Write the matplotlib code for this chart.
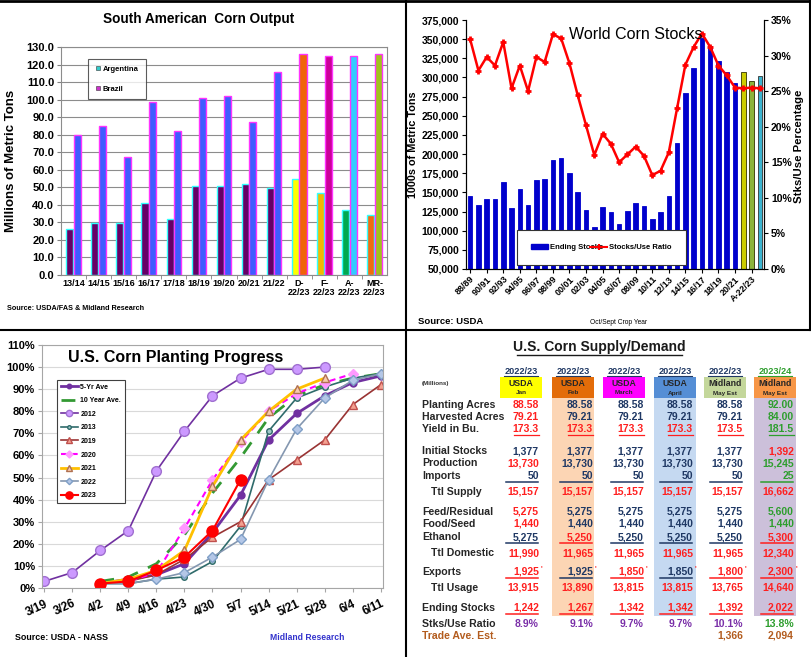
import numpy as np
import matplotlib
matplotlib.use('Agg')
import matplotlib.pyplot as plt
from matplotlib.lines import Line2D
from matplotlib.patches import Patch, Rectangle

plt.rcParams['font.family'] = ['Liberation Sans', 'DejaVu Sans']

W, H = 812, 657

# ---- South American corn output (million tons) ----
sa_years = ['13/14', '14/15', '15/16', '16/17', '17/18', '18/19', '19/20', '20/21',
            '21/22', 'D-\n22/23', 'F-\n22/23', 'A-\n22/23', 'MR-\n22/23']
argentina = [26, 29.5, 29.5, 41, 32, 51, 51, 52, 49.5, 55, 47, 37, 34]
brazil = [80, 85, 67.5, 98.5, 82, 101, 102, 87, 116, 126, 125, 125, 126]

# ---- World corn stocks (1000 MT) and stocks/use (%) ----
world_years = ['88/89', '89/90', '90/91', '91/92', '92/93', '93/94', '94/95', '95/96',
               '96/97', '97/98', '98/99', '99/00', '00/01', '01/02', '02/03', '03/04',
               '04/05', '05/06', '06/07', '07/08', '08/09', '09/10', '10/11', '11/12',
               '12/13', '13/14', '14/15', '15/16', '16/17', '17/18', '18/19', '19/20',
               '20/21', '21/22', 'A-22/23', 'MY-22/23']
world_stocks = [145000, 133000, 141000, 141000, 163000, 130000, 154000, 133000,
                166000, 167000, 192000, 195000, 175000, 151000, 127000, 105000,
                131000, 124000, 109000, 126000, 136000, 132000, 115000, 124000,
                145000, 215000, 280000, 312000, 352000, 341000, 322000, 307000,
                293000, 307000, 296000, 302000]
world_ratio = [32.3, 27.9, 29.8, 28.6, 31.9, 25.4, 28.6, 25.0, 29.8, 29.1, 33.0, 32.4,
               28.9, 24.4, 20.2, 16.0, 19.0, 17.6, 15.0, 16.1, 17.2, 15.9, 13.2, 13.8,
               16.4, 22.6, 28.7, 31.2, 33.1, 31.2, 28.6, 27.2, 25.5, 25.4, 25.5, 25.4]

# ---- U.S. corn planting progress (%) ----
nan = np.nan
weeks = ['3/19', '3/26', '4/2', '4/9', '4/16', '4/23', '4/30', '5/7', '5/14',
         '5/21', '5/28', '6/4', '6/11']
avg_5yr = [nan, nan, 2, 4, 6, 11, 25, 42, 67, 79, 87, 93, 96]
avg_10yr = [nan, nan, 3, 5, 11, 24, 43, 59, 77, 87, 92, 95, 97]
p2012 = [3, 7, 17, 26, 53, 71, 87, 95, 99, 99, 100, nan, nan]
p2013 = [nan, nan, 2, 2, 4, 5, 12, 28, 71, 86, 91, 95, 97]
p2019 = [nan, nan, 2, 3, 6, 13, 23, 30, 49, 58, 67, 83, 92]
p2020 = [nan, nan, 2, 3, 7, 27, 49, 66, 80, 88, 93, 97, nan]
p2021 = [nan, nan, 2, 4, 8, 17, 46, 67, 80, 90, 95, nan, nan]
p2022 = [nan, nan, 2, 2, 4, 7, 14, 22, 49, 72, 86, 94, 97]
p2023 = [nan, nan, 2, 3, 8, 14, 26, 49, nan, nan, nan, nan, nan]

# ---- U.S. corn supply/demand table ----
col_years = ['2022/23', '2022/23', '2022/23', '2022/23', '2022/23', '2023/24']
col_source = ['USDA', 'USDA', 'USDA', 'USDA', 'Midland', 'Midland']
col_month = ['Jan', 'Feb', 'March', 'April', 'May Est', 'May Est']
planting = [88.58, 88.58, 88.58, 88.58, 88.58, 92.00]
harvested = [79.21, 79.21, 79.21, 79.21, 79.21, 84.00]
yield_bu = [173.3, 173.3, 173.3, 173.3, 173.5, 181.5]
init_stocks = [1377, 1377, 1377, 1377, 1377, 1392]
production = [13730, 13730, 13730, 13730, 13730, 15245]
imports = [50, 50, 50, 50, 50, 25]
ttl_supply = [15157, 15157, 15157, 15157, 15157, 16662]
feed = [5275, 5275, 5275, 5275, 5275, 5600]
food = [1440, 1440, 1440, 1440, 1440, 1440]
ethanol = [5275, 5250, 5250, 5250, 5250, 5300]
ttl_domestic = [11990, 11965, 11965, 11965, 11965, 12340]
exports = [1925, 1925, 1850, 1850, 1800, 2300]
ttl_usage = [13915, 13890, 13815, 13815, 13765, 14640]
end_stocks = [1242, 1267, 1342, 1342, 1392, 2022]
stks_use = [8.9, 9.1, 9.7, 9.7, 10.1, 13.8]
trade_est = [None, None, None, None, 1366, 2094]


def box(x0, y0, x1, y1):
    return [x0 / W, 1 - y1 / H, (x1 - x0) / W, (y1 - y0) / H]


fig = plt.figure(figsize=(W / 100, H / 100), dpi=100)

# ================= top left: South American corn =================
ax1 = fig.add_axes(box(61, 47, 387, 275))
x = np.arange(len(sa_years))
arg_col = ['#660066'] * 9 + ['#ffff00', '#f5b800', '#00a850', '#f26b0f']
bra_col = ['#3f5cff'] * 9 + ['#f0640a', '#cc0099', '#33ccff', '#a2c11c']
ax1.bar(x - 0.15, argentina, 0.28, color=arg_col, edgecolor='#33ffff', linewidth=1, zorder=3)
ax1.bar(x + 0.15, brazil, 0.28, color=bra_col, edgecolor='#ff33ff', linewidth=1, zorder=3)
ax1.set_xlim(-0.5, len(sa_years) - 0.5)
ax1.set_ylim(0, 130)
ax1.set_yticks(np.arange(0, 131, 10))
ax1.set_yticklabels([f'{v:.1f}' for v in np.arange(0, 131, 10)], fontsize=8, fontweight='bold')
ax1.set_xticks(x)
ax1.set_xticklabels(sa_years, fontsize=6.5, fontweight='bold', linespacing=1.0)
ax1.set_xticks(x[:-1] + 0.5, minor=True)
ax1.tick_params(axis='x', which='major', length=0, pad=3)
ax1.tick_params(axis='x', which='minor', length=3, color='#808080')
ax1.tick_params(axis='y', length=3, color='#808080', pad=2)
ax1.grid(axis='y', color='#8c8c8c', linewidth=0.8, zorder=0)
for s in ax1.spines.values():
    s.set_color('#8c8c8c')
h1 = [Line2D([], [], marker='s', ls='none', ms=3.5, mfc='#33cccc', mec='#333333', mew=0.4),
      Line2D([], [], marker='s', ls='none', ms=3.5, mfc='#cc33cc', mec='#333333', mew=0.4)]
lg = ax1.legend(h1, ['Argentina', 'Brazil'], loc='upper left', bbox_to_anchor=(0.07, 0.965),
                prop={'size': 5.5, 'weight': 'bold'}, labelspacing=1.6, handletextpad=0.1,
                handlelength=1.0, borderpad=0.9, fancybox=False, edgecolor='#333333')
lg.get_frame().set_linewidth(0.8)

# ================= top right: world corn stocks =================
ax2 = fig.add_axes(box(466, 20, 764, 269))
xi = np.arange(len(world_years))
bcol = ['#0000cc'] * 33 + ['#cccc00', '#8cb43c', '#3cb4d0']
bedge = ['#0000cc'] * 33 + ['#333300', '#333300', '#333333']
ax2.bar(xi, world_stocks, 0.55, color=bcol, edgecolor=bedge, linewidth=0.6, zorder=2)
ax2.set_xlim(-0.5, len(world_years) - 0.5)
ax2.set_ylim(50000, 375000)
yt = np.arange(50000, 375001, 25000)
ax2.set_yticks(yt)
ax2.set_yticklabels([f'{v:,}' for v in yt], fontsize=7.5, fontweight='bold')
ax2.set_xticks(xi[::2])
ax2.set_xticklabels(world_years[::2], rotation=45, ha='right', rotation_mode='anchor',
                    fontsize=6.5, fontweight='bold')
ax2.tick_params(axis='x', length=3, pad=1)
ax2.tick_params(axis='y', length=3, pad=2)
ax2.spines['top'].set_visible(False)
ax2r = ax2.twinx()
ax2r.plot(xi, world_ratio, color='#ff0000', lw=1.8, marker='+', ms=5, mew=2, zorder=4)
ax2r.set_ylim(0, 35)
ax2r.set_yticks(np.arange(0, 36, 5))
ax2r.set_yticklabels([f'{v}%' for v in range(0, 36, 5)], fontsize=7.5, fontweight='bold')
ax2r.tick_params(axis='y', length=3, pad=2)
ax2r.spines['top'].set_visible(False)
ax2r.text(0.57, 0.94, 'World Corn Stocks', transform=ax2r.transAxes, ha='center',
          va='center', fontsize=11.5, zorder=6)
h2 = [Patch(color='#0000cc'),
      Line2D([], [], color='#ff0000', lw=1.5, marker='+', ms=4, mew=1.5)]
lg2 = ax2r.legend(h2, ['Ending Stocks', 'Stocks/Use Ratio'], loc='lower left',
                  bbox_to_anchor=(0.16, 0.0, 0.59, 0.14), mode='expand', ncol=2,
                  prop={'size': 5.5, 'weight': 'bold'}, borderpad=1.8, handlelength=2.2,
                  handletextpad=0.3, fancybox=False, edgecolor='#333333', framealpha=1)
lg2.get_frame().set_linewidth(0.8)
lg2.set_zorder(10)

# ================= bottom left: planting progress =================
ax3 = fig.add_axes(box(42, 345, 383, 588))
wx = np.arange(len(weeks))
series = [
    (avg_5yr, '5-Yr Ave', dict(color='#7030a0', lw=2, marker='o', ms=5)),
    (avg_10yr, '10 Year Ave.', dict(color='#339933', lw=2, ls=(0, (5, 4)))),
    (p2012, '2012', dict(color='#7030a0', lw=1.2, marker='o', ms=7, mfc='#cc99ff', mec='#a070d0')),
    (p2013, '2013', dict(color='#2f6b6b', lw=1.2, marker='o', ms=4, mfc='#a0c8c8', mec='#2f6b6b')),
    (p2019, '2019', dict(color='#993333', lw=1.2, marker='^', ms=6, mfc='#f4a090', mec='#c0504d')),
    (p2020, '2020', dict(color='#ff00ff', lw=1.5, ls=(0, (3, 2)), marker='D', ms=5.5, mfc='#ff99ff', mec='#ff99ff')),
    (p2021, '2021', dict(color='#ffc000', lw=2, marker='^', ms=6, mfc='#f8cbad', mec='#b07050')),
    (p2022, '2022', dict(color='#8497b0', lw=1.2, marker='D', ms=5, mfc='#b4c7e7', mec='#7f9fc7')),
    (p2023, '2023', dict(color='#ff0000', lw=1.5, marker='o', ms=8)),
]
for vals, name, kw in series:
    ax3.plot(wx, np.array(vals, dtype=float), label=name, **kw)
ax3.set_xlim(-0.08, len(weeks) - 1 + 0.08)
ax3.set_ylim(0, 110)
ax3.set_yticks(np.arange(0, 111, 10))
ax3.set_yticklabels([f'{v}%' for v in range(0, 111, 10)], fontsize=8, fontweight='bold')
ax3.set_xticks(wx)
ax3.set_xticklabels(weeks, rotation=25, ha='right', rotation_mode='anchor',
                    fontsize=8.5, fontweight='bold')
ax3.tick_params(axis='x', length=3, pad=4, color='#a6a6a6')
ax3.tick_params(axis='y', length=3, pad=2, color='#a6a6a6')
ax3.grid(axis='y', color='#d9d9d9', lw=0.8)
ax3.set_axisbelow(True)
for s in ax3.spines.values():
    s.set_color('#a6a6a6')
ax3.text(0.076, 0.95, 'U.S. Corn Planting Progress', transform=ax3.transAxes,
         fontsize=11.5, fontweight='bold', va='center', ha='left')
lg3 = ax3.legend(loc='upper left', bbox_to_anchor=(0.035, 0.87), prop={'size': 5, 'weight': 'bold'},
                 labelspacing=0.95, handlelength=2.4, handletextpad=0.4, borderpad=0.5,
                 markerscale=0.65, fancybox=False, edgecolor='#404040', framealpha=1)
lg3.get_frame().set_linewidth(0.8)

# ================= overlay: texts, borders, table =================
ov = fig.add_axes([0, 0, 1, 1])
ov.set_xlim(0, W)
ov.set_ylim(H, 0)
ov.axis('off')
ov.patch.set_visible(False)

ov.plot([0, W], [1, 1], color='black', lw=2)
ov.plot([0, W], [330, 330], color='black', lw=1.5)
ov.plot([406, 406], [0, H], color='black', lw=1.5)
ov.plot([810.5, 810.5], [0, 330], color='black', lw=1.5)

ov.text(199, 19, 'South American  Corn Output', ha='center', va='center', fontsize=9.8, fontweight='bold')
ov.text(11, 161, 'Millions of Metric Tons', rotation=90, ha='center', va='center', fontsize=9.5, fontweight='bold')
ov.text(7, 308, 'Source: USDA/FAS & Midland Research', ha='left', va='center', fontsize=5.2, fontweight='bold')

ov.text(413, 145, '1000s of Metric Tons', rotation=90, ha='center', va='center', fontsize=7.8, fontweight='bold')
ov.text(799, 146, 'Stks/Use Percentage', rotation=90, ha='center', va='center', fontsize=8.2, fontweight='bold')
ov.text(418, 321, 'Source: USDA', ha='left', va='center', fontsize=6.8, fontweight='bold')
ov.text(619, 323, 'Oct/Sept Crop Year', ha='center', va='center', fontsize=4.8)

ov.text(15, 637, 'Source: USDA - NASS', ha='left', va='center', fontsize=6.4, fontweight='bold')
ov.text(270, 637, 'Midland Research', ha='left', va='center', fontsize=6.2, fontweight='bold', color='#3333cc')

# table
C = {'r': '#ff1f1f', 'n': '#1f3864', 'g': '#2e9e2e', 'p': '#7a2fa8', 'b': '#b35c1e'}
centers = [521, 573, 624, 675, 725, 775]
rights = [539, 593, 644, 693, 743, 794]
box_fill = ['#ffff00', '#e36c09', '#ff00ff', '#558ed5', '#c4d79b', '#f79646']
shade = {1: '#fcd5b4', 3: '#c5d9f1', 5: '#ccc0da'}

ov.text(599, 347, 'U.S. Corn Supply/Demand', ha='center', va='center', fontsize=10, fontweight='bold', color='#1a1a1a')
ov.plot([517, 682], [355, 355], color='#1a1a1a', lw=1)
ov.text(422, 383, '(Millions)', ha='left', va='center', fontsize=4.5, fontweight='bold', color='#333333')

for i in range(6):
    c = centers[i]
    ycol = C['g'] if i == 5 else C['n']
    ov.text(c, 371, col_years[i], ha='center', va='center', fontsize=6.6, fontweight='bold', color=ycol)
    ov.plot([c - 17, c + 17], [376, 376], color=ycol, lw=0.8)
    ov.add_patch(Rectangle((c - 21, 377), 42, 21, color=box_fill[i], lw=0))
    ov.text(c, 383, col_source[i], ha='center', va='center', fontsize=6.3, fontweight='bold', color='#262626')
    ov.text(c, 393, col_month[i], ha='center', va='center', fontsize=4.6, fontweight='bold', color='#262626')
    if i in shade:
        ov.add_patch(Rectangle((c - 21, 398), 42, 218, color=shade[i], lw=0, zorder=0))

int_fmt = '{:,.0f}'
rows = [
    ('Planting Acres', 405, planting, '{:.2f}', 'rnnnng', None, False),
    ('Harvested Acres', 417, harvested, '{:.2f}', 'rnnnng', None, False),
    ('Yield in Bu.', 429, yield_bu, '{:.1f}', 'rrrrrg', 'text', False),
    ('Initial Stocks', 451, init_stocks, int_fmt, 'nnnnnr', None, False),
    ('Production', 463, production, int_fmt, 'rnnnng', None, False),
    ('Imports', 476, imports, int_fmt, 'nnnnng', 'rule', False),
    ('Ttl Supply', 492, ttl_supply, int_fmt, 'rrrrrr', None, True),
    ('Feed/Residual', 512, feed, int_fmt, 'rnnnng', None, False),
    ('Food/Seed', 524, food, int_fmt, 'rnnnng', None, False),
    ('Ethanol', 537, ethanol, int_fmt, 'nrnnnr', 'rule', False),
    ('Ttl Domestic', 553, ttl_domestic, int_fmt, 'rrrrrr', None, True),
    ('Exports', 572, exports, int_fmt, 'rnrnrr', 'rule', False),
    ('Ttl Usage', 588, ttl_usage, int_fmt, 'rrrrrr', None, True),
    ('Ending Stocks', 608, end_stocks, int_fmt, 'rrrrrr', 'rule', False),
    ('Stks/Use Ratio', 624, stks_use, '{:.1f}%', 'pppppg', None, False),
    ('Trade Ave. Est.', 636, trade_est, int_fmt, 'bbbbbb', None, False),
]
for label, y, vals, fmt, cols, under, indent in rows:
    lcol = C['b'] if label.startswith('Trade') else '#262626'
    ov.text(431 if indent else 422, y, label, ha='left', va='center', fontsize=7.6,
            fontweight='bold', color=lcol)
    for i, v in enumerate(vals):
        if v is None:
            continue
        col = C[cols[i]]
        r = rights[i]
        ov.text(r, y, fmt.format(v), ha='right', va='center', fontsize=7.5, fontweight='bold', color=col)
        if under == 'text':
            ov.plot([r - 25, r], [y + 5.5, y + 5.5], color=col, lw=0.9)
        elif under == 'rule':
            ov.plot([r - 33, r - 1], [y + 5.8, y + 5.8], color=col, lw=1.1)
        if label == 'Exports':
            ov.text(r + 2, y - 3, "'", ha='left', va='center', fontsize=5, fontweight='bold', color=C['r'])

fig.savefig('out.png', dpi=100)
